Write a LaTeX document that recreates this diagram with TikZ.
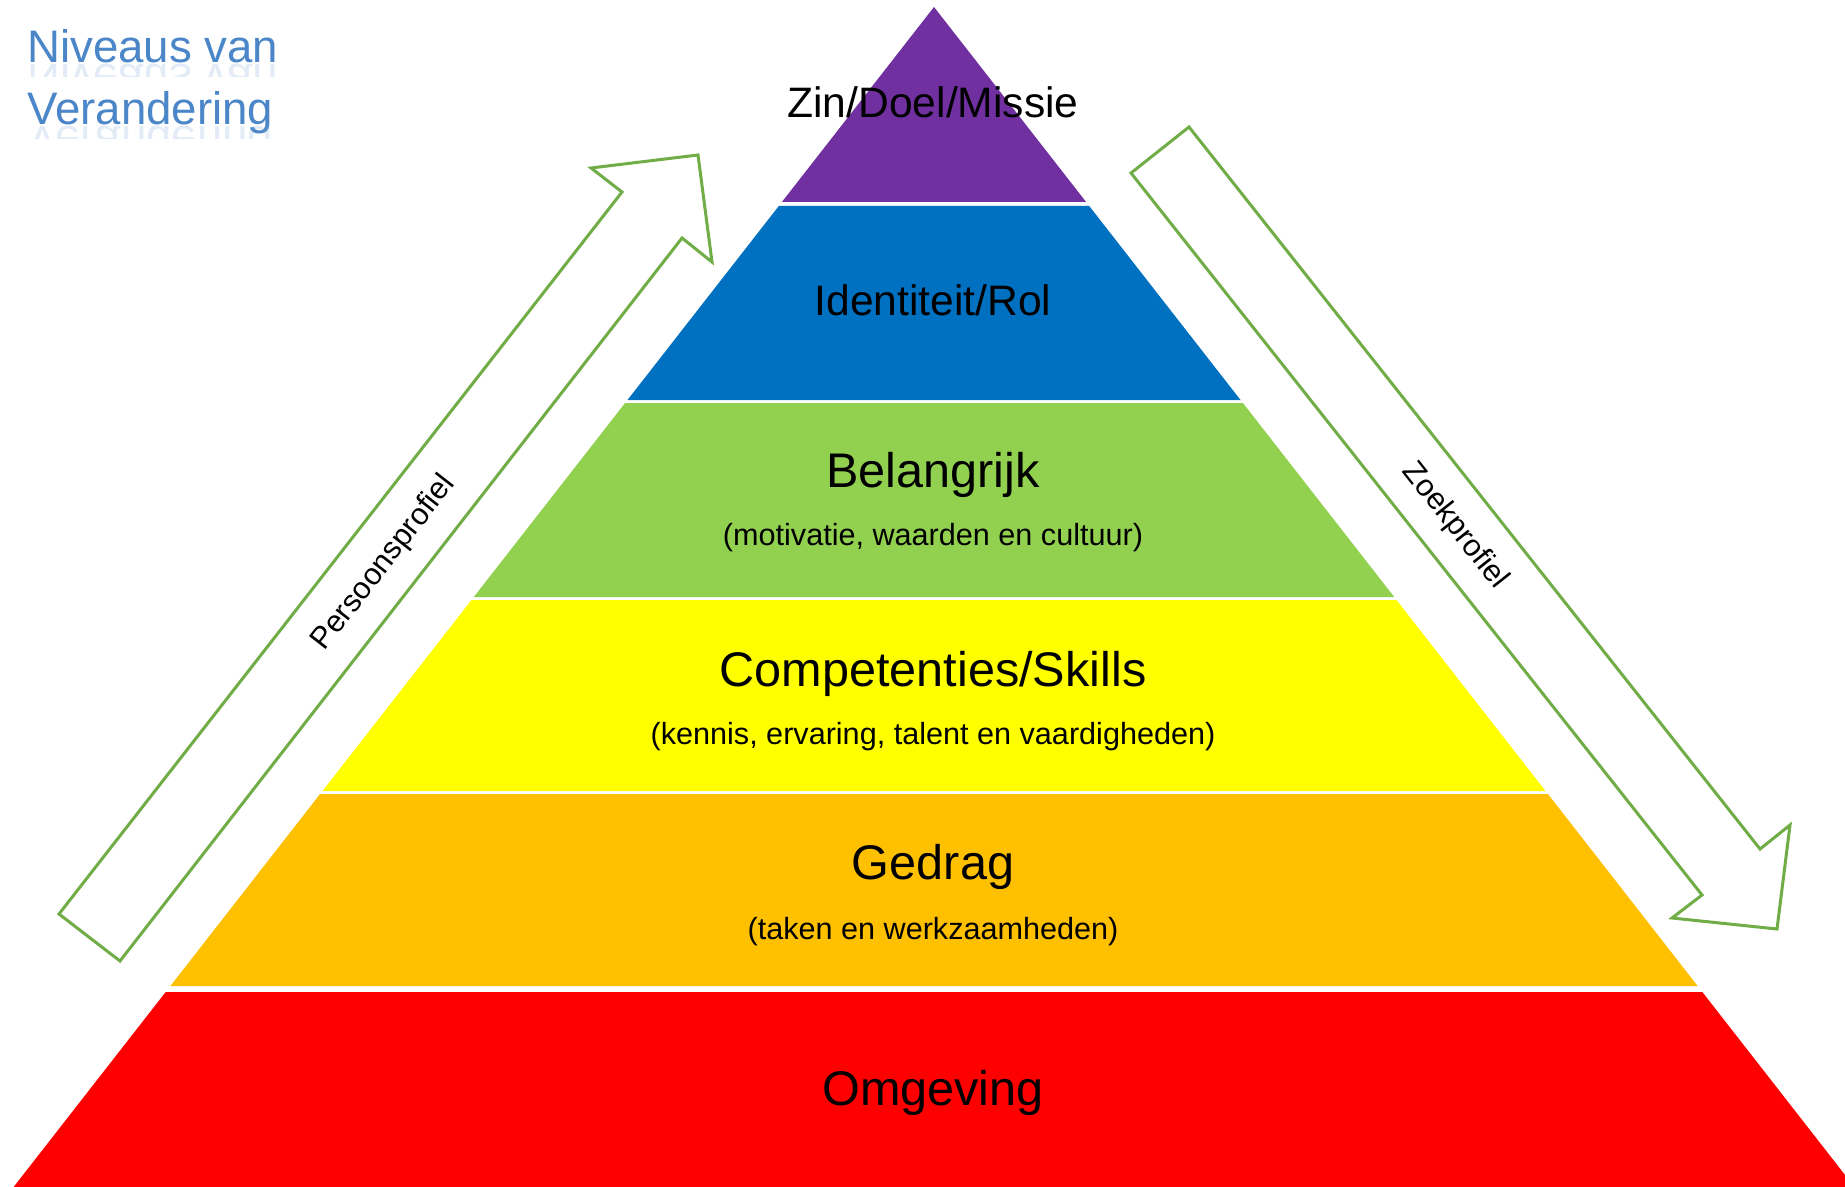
\documentclass[tikz,border=0pt]{standalone}
\usepackage{fontspec}
\setmainfont{Liberation Sans}
\usepackage{graphicx}
\definecolor{lpurple}{HTML}{7030A0}
\definecolor{lblue}{HTML}{0070C0}
\definecolor{lgreen}{HTML}{92D050}
\definecolor{lyellow}{HTML}{FFFF00}
\definecolor{lorange}{HTML}{FFC000}
\definecolor{lred}{HTML}{FF0000}
\definecolor{arrowgreen}{HTML}{70AD47}
\definecolor{titleblue}{HTML}{4A86C8}
\begin{document}
\begin{tikzpicture}[x=0.5pt,y=-0.5pt,
  lbl/.style={inner sep=0pt, anchor=base, text=black},
  toplbl/.style={lbl, font=\fontsize{21.3pt}{25pt}\selectfont},
  mainlbl/.style={lbl, font=\fontsize{24.3pt}{28pt}\selectfont},
  sublbl/.style={lbl, font=\fontsize{15.3pt}{18pt}\selectfont},
  alabel/.style={inner sep=0pt, text=black, font=\fontsize{15.3pt}{18pt}\selectfont},
  bigarrow/.style={draw=arrowgreen, line width=1.5pt, line join=miter, fill=white},
  titletxt/.style={inner sep=0pt, anchor=base west, text=titleblue, font=\fontsize{22.8pt}{27pt}\selectfont},
  titlerefl/.style={titletxt, text=titleblue!70, text opacity=0.22}]
\useasboundingbox (0,0) rectangle (1845,1187);
\clip (0,0) rectangle (1845,1187);
\fill[white] (0,0) rectangle (1845,1187);
% pyramid layers
\fill[lpurple] (934,7) -- (1086.1,202) -- (781.9,202) -- cycle;
\fill[lblue] (778.8,206) -- (1089.2,206) -- (1240.5,400) -- (627.5,400) -- cycle;
\fill[lgreen] (625.1,403) -- (1242.9,403) -- (1394.2,597) -- (473.8,597) -- cycle;
\fill[lyellow] (471.5,600) -- (1396.5,600) -- (1545.5,791) -- (322.5,791) -- cycle;
\fill[lorange] (320.1,794) -- (1547.9,794) -- (1697.6,986) -- (170.4,986) -- cycle;
\fill[lred] (165.7,992) -- (1702.3,992) -- (1854.4,1187) -- (13.6,1187) -- cycle;
% labels
\node[toplbl] (zin) at (933,118) {Zin/Doel/Missie};
\node[toplbl] (ident) at (933,315) {Identiteit/Rol};
\node[mainlbl] (bel) at (933,487) {Belangrijk};
\node[sublbl] (belsub) at (933,545) {(motivatie, waarden en cultuur)};
\node[mainlbl] (comp) at (933,686) {Competenties/Skills};
\node[sublbl] (compsub) at (933,744) {(kennis, ervaring, talent en vaardigheden)};
\node[mainlbl] (ged) at (933,879) {Gedrag};
\node[sublbl] (gedsub) at (933,939) {(taken en werkzaamheden)};
\node[mainlbl] (omg) at (933,1105) {Omgeving};
% arrows
\draw[bigarrow] (59,914) -- (622,192) -- (591,168) -- (698,155) -- (712,262) -- (682,238) -- (120,961) -- cycle;
\draw[bigarrow] (1131,173) -- (1702,895) -- (1672,918) -- (1777,929) -- (1790,825) -- (1760,849) -- (1189,127) -- cycle;
\node[alabel, rotate=52.05] (pp) at (384,563) {Persoonsprofiel};
\node[alabel, rotate=-51.66] (zp) at (1455,526) {Zoekprofiel};
% title
\node[titletxt] (t1) at (27,63) {Niveaus van};
\node[titletxt] (t2) at (27,125) {Verandering};
\begin{scope}
  \clip (0,64) rectangle (400,77);
  \node[titlerefl] (t1r) at (27,65) {\scalebox{1}[-1]{Niveaus van}};
\end{scope}
\begin{scope}
  \clip (0,126) rectangle (400,139);
  \node[titlerefl] (t2r) at (27,127) {\scalebox{1}[-1]{Verandering}};
\end{scope}
\end{tikzpicture}
\end{document}
